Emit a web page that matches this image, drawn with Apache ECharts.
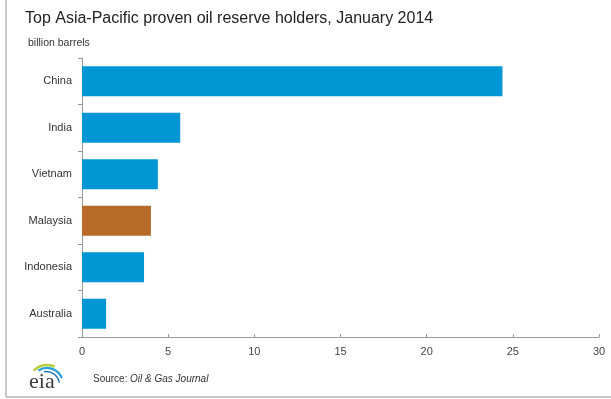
<!DOCTYPE html>
<html>
<head>
<meta charset="utf-8">
<script src="https://cdn.jsdelivr.net/npm/echarts@6/dist/echarts.min.js"></script>
<style>
  html, body { margin: 0; padding: 0; background: #fff; }
  #chart { width: 611px; height: 399px; }
</style>
</head>
<body>
<div id="chart"></div>
<script>
// Proven oil reserves, billion barrels (January 2014)
const countries = ['China', 'India', 'Vietnam', 'Malaysia', 'Indonesia', 'Australia'];
const reserves = [24.4, 5.7, 4.4, 4.0, 3.6, 1.4];
const highlighted = 'Malaysia';
const xTicks = [0, 5, 10, 15, 20, 25, 30];

const BLUE = '#0096d6';
const BROWN = '#b86b28';

const chart = echarts.init(document.getElementById('chart'), null, { renderer: 'canvas' });

chart.setOption({
  animation: false,
  backgroundColor: '#fff',
  textStyle: { fontFamily: 'Liberation Sans, Arial, sans-serif' },
  title: [
    {
      text: 'Top Asia-Pacific proven oil reserve holders, January 2014',
      left: 20, top: 6,
      textStyle: { fontSize: 16, fontWeight: 'normal', color: '#222' }
    },
    {
      text: 'billion barrels',
      left: 23, top: 33,
      textStyle: { fontSize: 10.5, fontWeight: 'normal', color: '#333' }
    }
  ],
  grid: { left: 82, right: 12, top: 58, bottom: 62, containLabel: false },
  xAxis: {
    type: 'value',
    min: xTicks[0],
    max: xTicks[xTicks.length - 1],
    interval: 5,
    axisLine: { show: true, lineStyle: { color: '#9a9a9a', width: 1 } },
    axisTick: { show: true, inside: true, length: 3, lineStyle: { color: '#9a9a9a' } },
    splitLine: { show: false },
    axisLabel: { color: '#444', fontSize: 11, margin: 9 }
  },
  yAxis: {
    type: 'category',
    data: countries,
    inverse: true,
    axisLine: { show: true, lineStyle: { color: '#9a9a9a', width: 1 } },
    axisTick: { show: true, alignWithLabel: false, length: 4, lineStyle: { color: '#9a9a9a' } },
    axisLabel: { color: '#333', fontSize: 11, margin: 10 }
  },
  series: [{
    type: 'bar',
    data: reserves.map((v, i) => ({
      value: v,
      itemStyle: { color: countries[i] === highlighted ? BROWN : BLUE }
    })),
    barWidth: 30
  }],
  graphic: [
    // frame lines on the left and bottom
    { type: 'line', shape: { x1: 6, y1: 0, x2: 6, y2: 397 }, style: { stroke: '#c8c8c8', lineWidth: 2 } },
    { type: 'line', shape: { x1: 6, y1: 397, x2: 611, y2: 397 }, style: { stroke: '#c8c8c8', lineWidth: 2 } },
    // eia logo swooshes
    { type: 'arc', shape: { cx: 47, cy: 383, r: 18, startAngle: -Math.PI * 0.76, endAngle: -Math.PI * 0.36 },
      style: { stroke: '#b5cf3c', lineWidth: 2.5, fill: null } },
    { type: 'arc', shape: { cx: 47, cy: 384, r: 16, startAngle: -Math.PI * 0.68, endAngle: -Math.PI * 0.12 },
      style: { stroke: '#2a9fd6', lineWidth: 2.2, fill: null } },
    { type: 'arc', shape: { cx: 46, cy: 385, r: 13.5, startAngle: -Math.PI * 0.55, endAngle: -Math.PI * 0.05 },
      style: { stroke: '#1a6fb0', lineWidth: 1.3, fill: null } },
    { type: 'text', left: 29, top: 371,
      style: { text: 'eia', font: '22px "Liberation Serif", "DejaVu Serif", serif', fill: '#3d3d3d' } },
    // source line
    { type: 'text', left: 93, top: 374,
      style: { text: 'Source: ', font: '10px "Liberation Sans", Arial, sans-serif', fill: '#333' } },
    { type: 'text', left: 130, top: 374,
      style: { text: 'Oil & Gas Journal', font: 'italic 10px "Liberation Sans", Arial, sans-serif', fill: '#333' } }
  ]
});
</script>
</body>
</html>
